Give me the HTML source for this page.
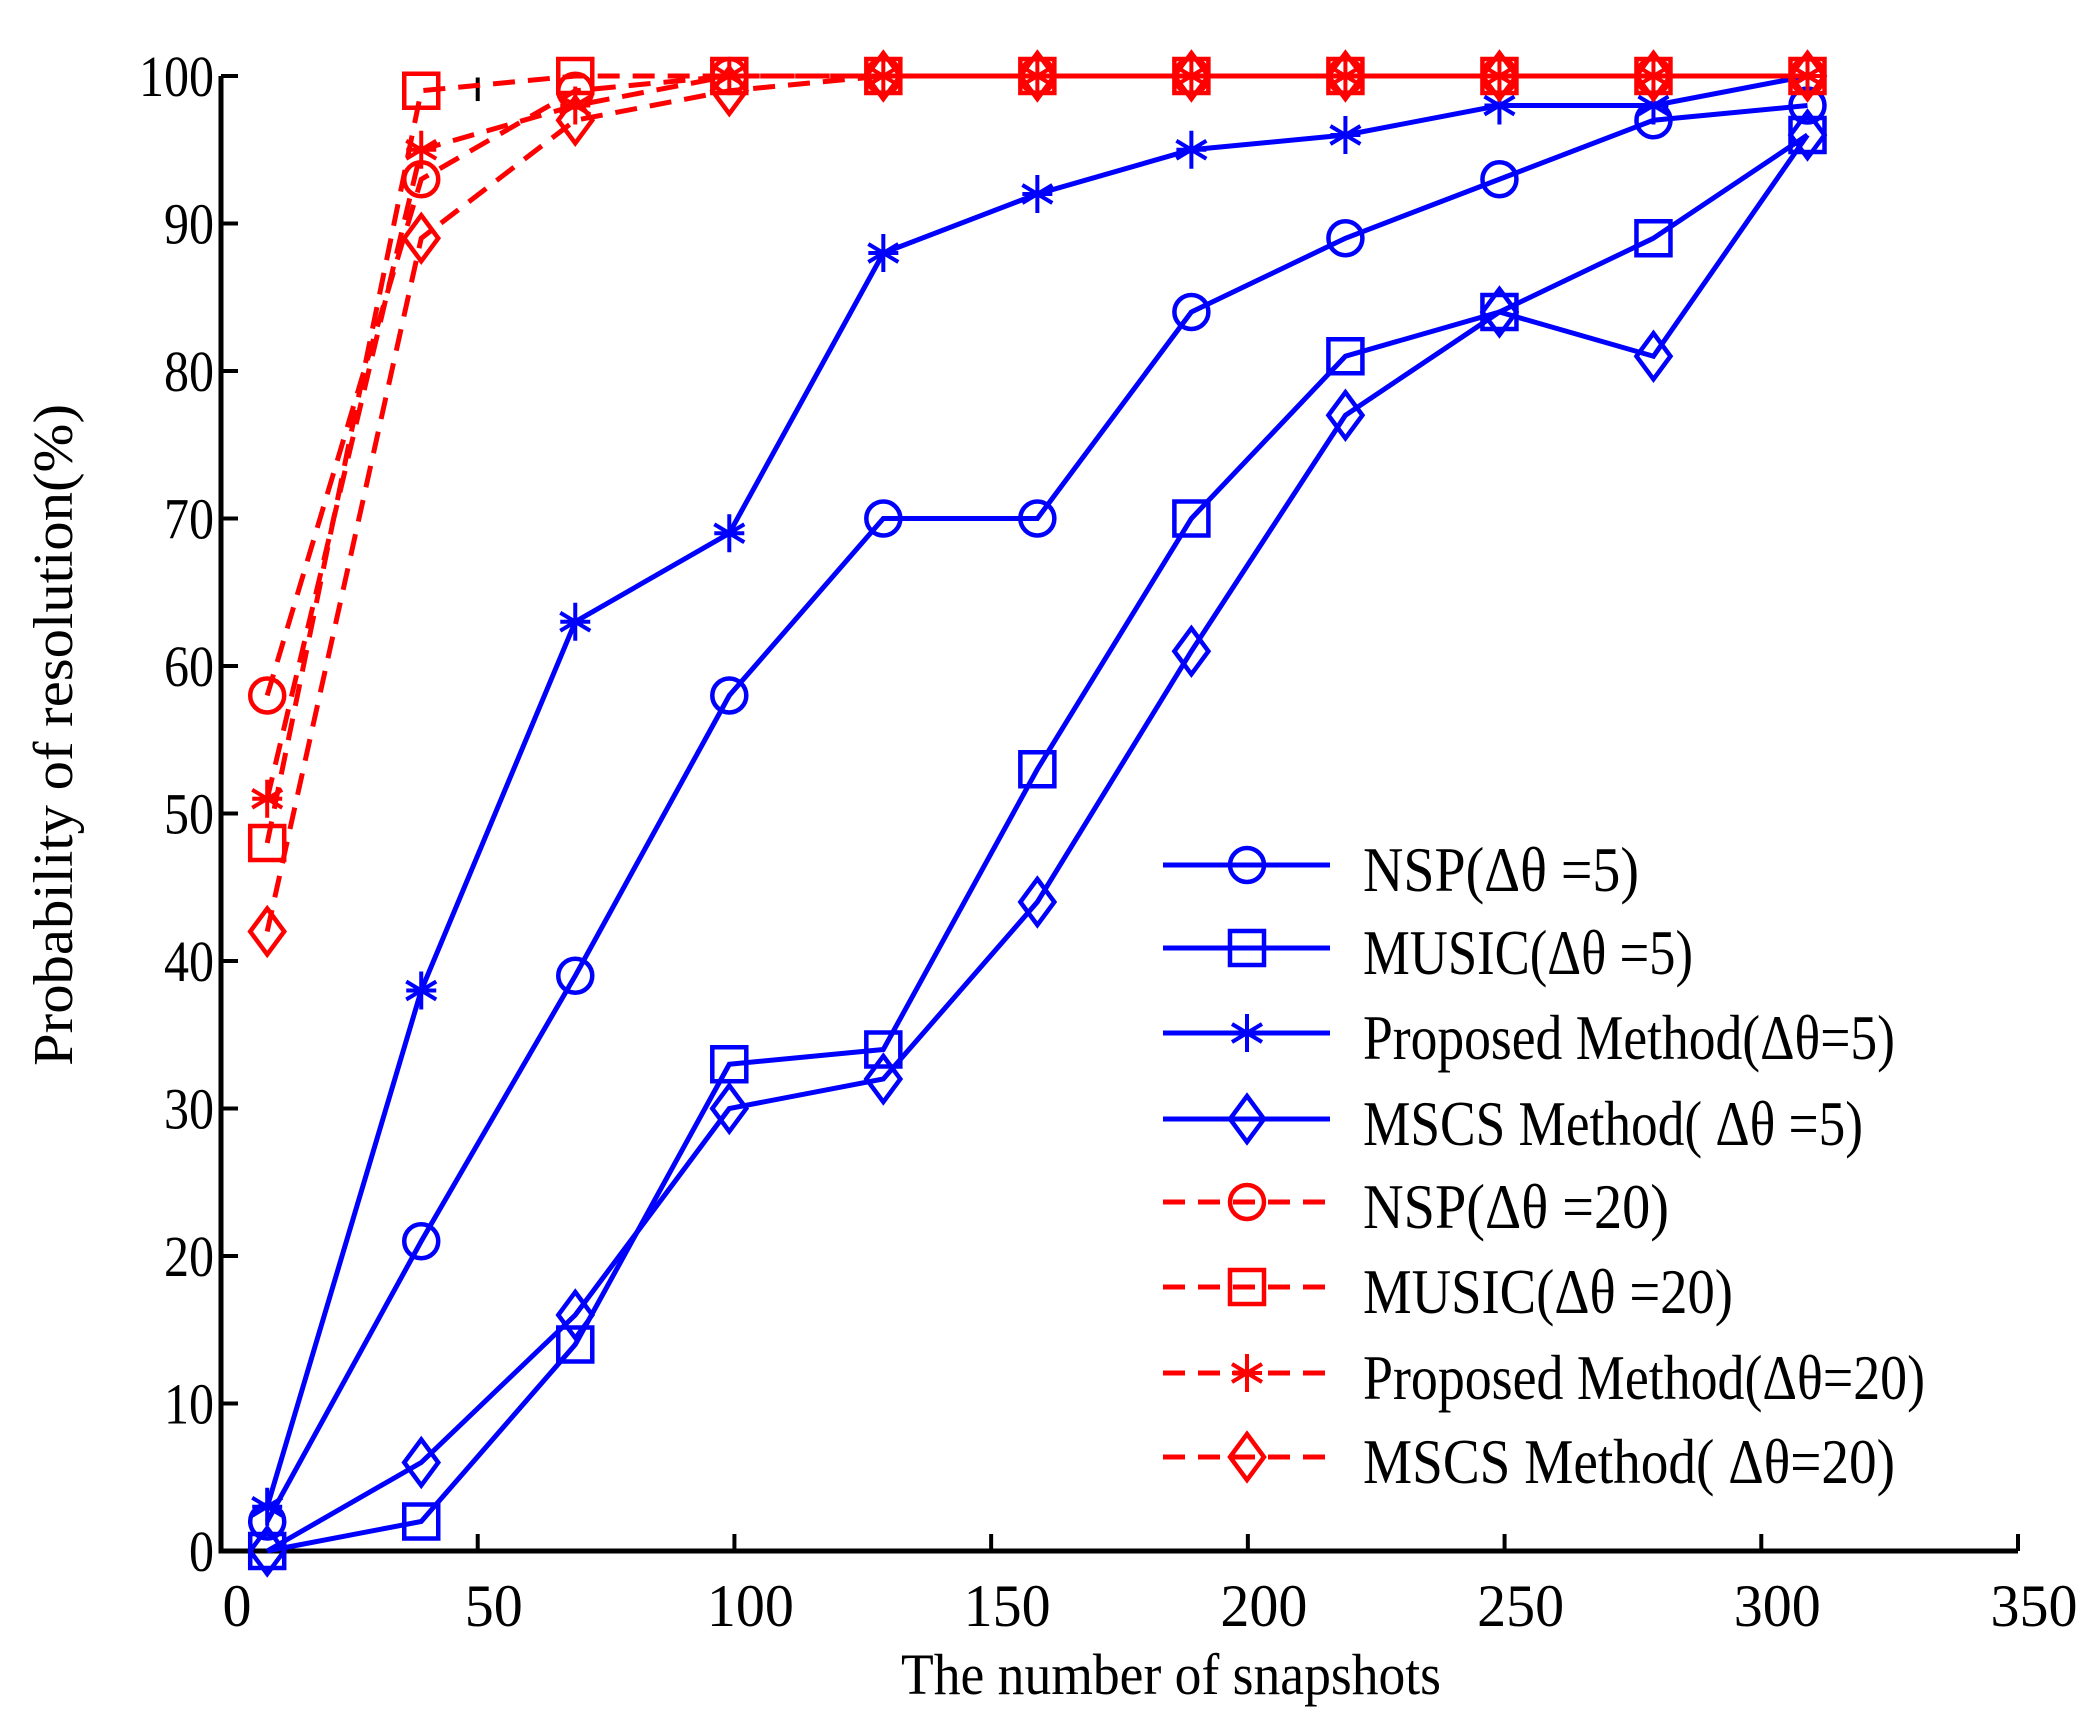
<!DOCTYPE html>
<html><head><meta charset="utf-8"><style>
html,body{margin:0;padding:0;background:#fff;}
svg{display:block;font-family:"Liberation Serif","DejaVu Serif",serif;}
</style></head><body>
<svg id="chart" width="2096" height="1714" viewBox="0 0 2096 1714">
<g id="axes"></g>
<g id="series"></g>
<g id="legend"></g>
<text x="1171" y="1694" font-size="58" text-anchor="middle" textLength="540" lengthAdjust="spacingAndGlyphs">The number of snapshots</text>
<text transform="translate(72,735) rotate(-90)" font-size="56" text-anchor="middle" textLength="662" lengthAdjust="spacingAndGlyphs">Probability of resolution(%)</text>
</svg>
<script>
const xVals = [9,39,69,99,129,159,189,219,249,279,309];
const nsp5 = [2,21,39,58,70,70,84,89,93,97,98];
const music5 = [0,2,14,33,34,53,70,81,84,89,96];
const prop5 = [3,38,63,69,88,92,95,96,98,98,100];
const mscs5 = [0,6,16,30,32,44,61,77,84,81,96];
const nsp20 = [58,93,99,100,100,100,100,100,100,100,100];
const music20 = [48,99,100,100,100,100,100,100,100,100,100];
const prop20 = [51,95,98,100,100,100,100,100,100,100,100];
const mscs20 = [42,89,97,99,100,100,100,100,100,100,100];
const xTicks = [0,50,100,150,200,250,300,350];
const yTicks = [0,10,20,30,40,50,60,70,80,90,100];
const seriesNames = ["NSP(Δθ =5)","MUSIC(Δθ =5)","Proposed Method(Δθ=5)","MSCS Method( Δθ =5)","NSP(Δθ =20)","MUSIC(Δθ =20)","Proposed Method(Δθ=20)","MSCS Method( Δθ=20)"];

const NS="http://www.w3.org/2000/svg";
const X0=221,X1=2018,Y0=1551,Y1=76;
const sx=v=>X0+(v-0)/(350)*(X1-X0);
const sy=v=>Y0-(v/100)*(Y0-Y1);
function mk(tag,attrs,parent){const e=document.createElementNS(NS,tag);for(const k in attrs)e.setAttribute(k,attrs[k]);parent.appendChild(e);return e;}
const axes=document.getElementById('axes');
let a=mk('path',{d:`M${X0},${Y1} V${Y0} H${X1}`,fill:'none',stroke:'#000','stroke-width':5},axes);


xTicks.forEach(t=>{
  const l=mk('line',{x1:sx(t),x2:sx(t),y1:Y0,y2:Y0-17,stroke:'#000','stroke-width':4},axes);
  
  
  const s=String(t);
  const tx=mk('text',{x:sx(t)+16,y:1626,'font-size':60,'text-anchor':'middle',textLength:29*s.length,lengthAdjust:'spacingAndGlyphs'},axes);
  tx.textContent=s;
  
  
});
yTicks.forEach(t=>{
  const l=mk('line',{x1:X0,x2:X0+17,y1:sy(t),y2:sy(t),stroke:'#000','stroke-width':4},axes);
  
  
  const s=String(t);
  const tx=mk('text',{x:214,y:sy(t)+20,'font-size':58,'text-anchor':'end',textLength:25*s.length,lengthAdjust:'spacingAndGlyphs'},axes);
  tx.textContent=s;
  
  
});
let art=mk('line',{x1:sx(50),x2:sx(50),y1:sy(99.9),y2:sy(98.3),stroke:'#000','stroke-width':4},axes);



function marker(type,cx,cy,color,g){
  let e;
  if(type==='o') e=mk('circle',{cx,cy,r:17,fill:'none',stroke:color,'stroke-width':4.5},g);
  else if(type==='s') e=mk('rect',{x:cx-17,y:cy-17,width:34,height:34,fill:'none',stroke:color,'stroke-width':4.5},g);
  else if(type==='d') e=mk('path',{d:`M${cx},${cy-23} L${cx+17},${cy} L${cx},${cy+23} L${cx-17},${cy} Z`,fill:'none',stroke:color,'stroke-width':4.5},g);
  else e=mk('path',{d:`M${cx},${cy-19}V${cy+19}M${cx-15},${cy-9}L${cx+15},${cy+9}M${cx-15},${cy+9}L${cx+15},${cy-9}M${cx-15},${cy}H${cx+15}`,fill:'none',stroke:color,'stroke-width':4},g);
  return e;
}
const defs=[
 [nsp5,'o','#0000ff',false,'nsp-5'],[music5,'s','#0000ff',false,'music-5'],[prop5,'*','#0000ff',false,'proposed-5'],[mscs5,'d','#0000ff',false,'mscs-5'],
 [nsp20,'o','#ff0000',true,'nsp-20'],[music20,'s','#ff0000',true,'music-20'],[prop20,'*','#ff0000',true,'proposed-20'],[mscs20,'d','#ff0000',true,'mscs-20']];
const sg=document.getElementById('series');
defs.forEach(([vals,m,c,dash,name])=>{
  const g=mk('g',{},sg);
  
  
  const pts=vals.map((v,i)=>`${sx(xVals[i])},${sy(v)}`).join(' ');
  const pl=mk('polyline',{points:pts,fill:'none',stroke:c,'stroke-width':5,'stroke-dasharray':dash?'22 13':'none'},g);
  
  
  vals.forEach((v,i)=>{
    const e=marker(m,sx(xVals[i]),sy(v),c,g);
    
    
  });
});
const lg=document.getElementById('legend');
const legY=[865,948,1033,1119,1202,1287,1373,1457];
const legW=[276,330,532,500,306,370,562,532];
defs.forEach(([vals,m,c,dash,name],i)=>{
  const g=mk('g',{},lg);
  
  
  const y=legY[i];
  mk('line',{x1:1163,x2:1330,y1:y,y2:y,stroke:c,'stroke-width':5,'stroke-dasharray':dash?'22 13':'none'},g);
  marker(m,1247,y,c,g);
  const t=mk('text',{x:1363,y:y+26,'font-size':64,textLength:legW[i],lengthAdjust:'spacingAndGlyphs'},g);
  t.textContent=seriesNames[i];
});
</script>
</body></html>
